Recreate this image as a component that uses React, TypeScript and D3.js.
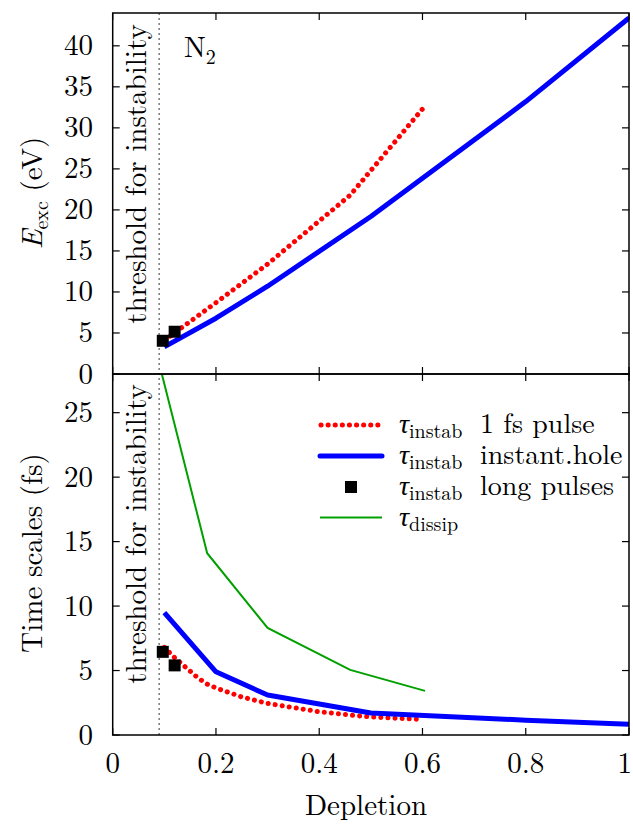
import React from "react";
import * as d3 from "d3";

// ---- data ----
const xTicks = [0, 0.2, 0.4, 0.6, 0.8, 1];
const xTickLabels = ["0", "0.2", "0.4", "0.6", "0.8", "1"];
const topYTicks = [0, 5, 10, 15, 20, 25, 30, 35, 40];
const bottomYTicks = [0, 5, 10, 15, 20, 25];
const threshold = 0.09;

// top panel: excitation energy (eV)
const blueTopX = [0.1, 0.2, 0.3, 0.5, 0.8, 1.0];
const blueTopY = [3.3, 6.8, 10.7, 19.2, 33.2, 43.4];
const redTopX = [0.1, 0.2, 0.3, 0.46, 0.6];
const redTopY = [4.1, 8.7, 13.4, 21.8, 32.3];
const squareX = [0.097, 0.12];
const squareTopY = [4.05, 5.15];

// bottom panel: time scales (fs)
const blueBotX = [0.1, 0.2, 0.3, 0.5, 0.8, 1.0];
const blueBotY = [9.5, 4.9, 3.1, 1.7, 1.15, 0.83];
const redBotX = [0.1, 0.12, 0.14, 0.16, 0.18, 0.2, 0.25, 0.3, 0.4, 0.46, 0.5, 0.6];
const redBotY = [6.8, 6.0, 5.3, 4.6, 4.0, 3.65, 2.95, 2.45, 1.8, 1.55, 1.4, 1.2];
const squareBotY = [6.45, 5.4];
const greenX = [0.092, 0.183, 0.3, 0.46, 0.605];
const greenY = [28.5, 14.1, 8.3, 5.05, 3.42];

const legendMain = ["τ", "τ", "τ", "τ"];
const legendSub = ["instab", "instab", "instab", "dissip"];
const legendText = ["1 fs pulse", "instant.hole", "long pulses", ""];

const FONT = "Latin Modern Roman, Liberation Serif, serif";

export default function App() {
  const W = 633, H = 824;
  const left = 112.7, right = 629, top = 13, mid = 374, bottom = 735;
  const x = d3.scaleLinear().domain([0, 1]).range([left, right]);
  const yT = d3.scaleLinear().domain([0, 44]).range([mid, top]);
  const yB = d3.scaleLinear().domain([0, 28]).range([bottom, mid]);

  const lineT = d3.line<[number, number]>().x(d => x(d[0])).y(d => yT(d[1]));
  const lineB = d3.line<[number, number]>().x(d => x(d[0])).y(d => yB(d[1]));
  const zip = (a: number[], b: number[]) => a.map((v, i) => [v, b[i]] as [number, number]);

  const red = "#ff0000";
  const blue = "#0000ff";
  const green = "#00a000";
  const dotted = { stroke: red, strokeWidth: 5, strokeDasharray: "0.1 7", strokeLinecap: "round" as const, fill: "none" };
  const sq = 12;
  const tickLen = 7;
  const fs = 29;
  const lfs = 28;
  const sub = 20;
  const ts = { fontFamily: FONT };

  const legRows = [425, 456, 487, 517.5];

  return (
    <svg width={W} height={H} style={{ position: "absolute", left: 0, top: 0, background: "#fff", fontFamily: FONT }}>
      <defs>
        <clipPath id="clipT"><rect x={left} y={top} width={right - left} height={mid - top} /></clipPath>
        <clipPath id="clipB"><rect x={left} y={mid} width={right - left} height={bottom - mid} /></clipPath>
      </defs>

      {/* threshold line */}
      <line x1={x(threshold)} x2={x(threshold)} y1={top} y2={bottom} stroke="#777" strokeWidth={1.5} strokeDasharray="2 3" />

      {/* top panel data */}
      <g clipPath="url(#clipT)">
        <path d={lineT(zip(redTopX, redTopY)) || ""} {...dotted} />
        <path d={lineT(zip(blueTopX, blueTopY)) || ""} stroke={blue} strokeWidth={5} fill="none" strokeLinejoin="round" />
        {squareX.map((v, i) => (
          <rect key={i} x={x(v) - sq / 2} y={yT(squareTopY[i]) - sq / 2} width={sq} height={sq} fill="#000" />
        ))}
      </g>

      {/* bottom panel data */}
      <g clipPath="url(#clipB)">
        <path d={lineB(zip(greenX, greenY)) || ""} stroke={green} strokeWidth={2} fill="none" />
        <path d={lineB(zip(redBotX, redBotY)) || ""} {...dotted} />
        <path d={lineB(zip(blueBotX, blueBotY)) || ""} stroke={blue} strokeWidth={5} fill="none" strokeLinejoin="round" />
        {squareX.map((v, i) => (
          <rect key={i} x={x(v) - sq / 2} y={yB(squareBotY[i]) - sq / 2} width={sq} height={sq} fill="#000" />
        ))}
      </g>

      {/* frames */}
      <rect x={left} y={top} width={right - left} height={mid - top} fill="none" stroke="#000" strokeWidth={1.5} />
      <rect x={left} y={mid} width={right - left} height={bottom - mid} fill="none" stroke="#000" strokeWidth={1.5} />

      {/* x ticks */}
      {xTicks.map((t, i) => (
        <g key={i} stroke="#000" strokeWidth={1.2}>
          <line x1={x(t)} x2={x(t)} y1={top} y2={top + tickLen} />
          <line x1={x(t)} x2={x(t)} y1={mid} y2={mid - tickLen} />
          <line x1={x(t)} x2={x(t)} y1={mid} y2={mid + tickLen} />
          <line x1={x(t)} x2={x(t)} y1={bottom} y2={bottom - tickLen} />
        </g>
      ))}
      {xTicks.map((t, i) => (
        <text key={i} style={ts} x={i === xTicks.length - 1 ? 632 : x(t)} y={773} textAnchor={i === xTicks.length - 1 ? "end" : "middle"} fontSize={fs} fill="#000">{xTickLabels[i]}</text>
      ))}

      {/* y ticks top */}
      {topYTicks.map((t, i) => (
        <g key={i}>
          <line x1={left} x2={left + tickLen} y1={yT(t)} y2={yT(t)} stroke="#000" strokeWidth={1.2} />
          <line x1={right} x2={right - tickLen} y1={yT(t)} y2={yT(t)} stroke="#000" strokeWidth={1.2} />
          <text style={ts} x={93} y={yT(t) + 9.5} textAnchor="end" fontSize={fs} fill="#000">{t}</text>
        </g>
      ))}
      {/* y ticks bottom */}
      {bottomYTicks.map((t, i) => (
        <g key={i}>
          <line x1={left} x2={left + tickLen} y1={yB(t)} y2={yB(t)} stroke="#000" strokeWidth={1.2} />
          <line x1={right} x2={right - tickLen} y1={yB(t)} y2={yB(t)} stroke="#000" strokeWidth={1.2} />
          {t > 0 && <text style={ts} x={93} y={yB(t) + 9.5} textAnchor="end" fontSize={fs} fill="#000">{t}</text>}
        </g>
      ))}
      <text style={ts} x={93} y={bottom + 9.5} textAnchor="end" fontSize={fs} fill="#000">0</text>

      {/* threshold labels */}
      <text style={ts} transform={`translate(146,174) rotate(-90)`} textAnchor="middle" fontSize={fs} fill="#000">threshold for instability</text>
      <text style={ts} transform={`translate(146,534) rotate(-90)`} textAnchor="middle" fontSize={fs} fill="#000">threshold for instability</text>

      {/* N2 */}
      <text style={ts} x={184} y={57} fontSize={fs} fill="#000">N<tspan fontSize={sub} dy={7}>2</tspan></text>

      {/* axis titles */}
      <text style={ts} transform={`translate(42,193) rotate(-90)`} textAnchor="middle" fontSize={fs} fill="#000">
        <tspan fontStyle="italic">E</tspan><tspan fontSize={sub} dy={6}>exc</tspan><tspan dy={-6}> (eV)</tspan>
      </text>
      <text style={ts} transform={`translate(42,553) rotate(-90)`} textAnchor="middle" fontSize={fs} fill="#000">Time scales (fs)</text>
      <text style={ts} x={366} y={815} textAnchor="middle" fontSize={fs} fill="#000">Depletion</text>

      {/* legend */}
      <line x1={321} x2={381} y1={legRows[0]} y2={legRows[0]} {...dotted} />
      <line x1={320} x2={382} y1={legRows[1]} y2={legRows[1]} stroke={blue} strokeWidth={5} strokeLinecap="round" />
      <rect x={351 - sq / 2} y={legRows[2] - sq / 2} width={sq} height={sq} fill="#000" />
      <line x1={320} x2={382} y1={legRows[3]} y2={legRows[3]} stroke={green} strokeWidth={2} />
      {legRows.map((r, i) => (
        <g key={i}>
          <text style={ts} x={399} y={r + 8} fontSize={lfs} fill="#000">
            <tspan fontStyle="italic">{legendMain[i]}</tspan><tspan fontSize={sub} dy={5}>{legendSub[i]}</tspan>
          </text>
          {legendText[i] && <text style={ts} x={480} y={r + 8} fontSize={lfs} fill="#000">{legendText[i]}</text>}
        </g>
      ))}
    </svg>
  );
}
